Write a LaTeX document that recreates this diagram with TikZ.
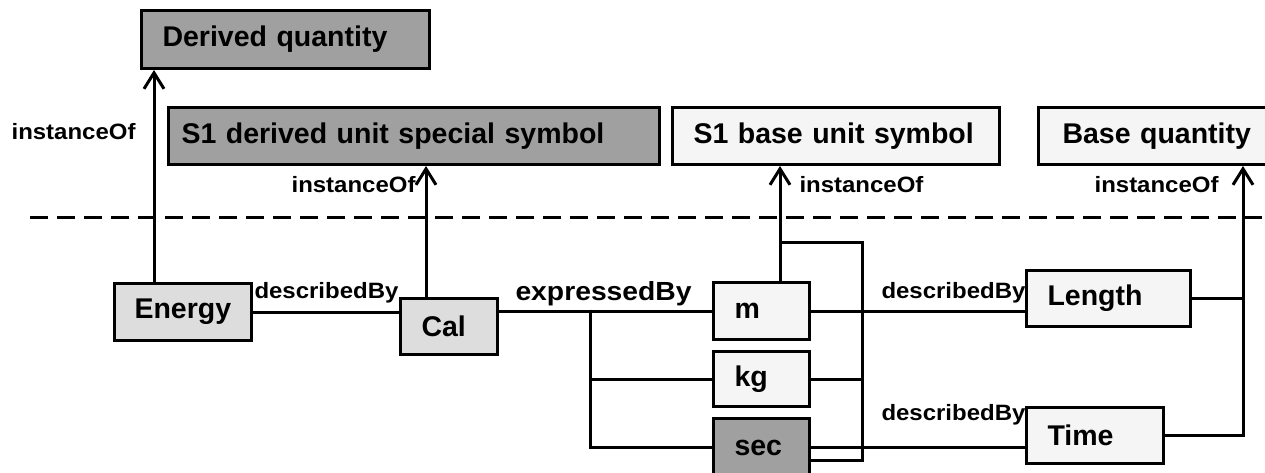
\documentclass[tikz,border=0pt]{standalone}
\usepackage{fontspec}
\setmainfont{Liberation Sans}
\newfontfamily\relfont{Liberation Sans}[FakeStretch=1.08]
\usetikzlibrary{arrows.meta}
\definecolor{darkfill}{HTML}{A0A0A0}
\definecolor{midfill}{HTML}{DDDDDD}
\definecolor{palefill}{HTML}{F5F5F5}
\begin{document}
\begin{tikzpicture}[x=1pt,y=-1pt,line width=3pt,
  box/.style={draw,anchor=north west,align=left,inner xsep=21pt,inner ysep=0pt,
    font=\bfseries\fontsize{28.5}{32}\selectfont},
  rel/.style={inner sep=0pt,font=\relfont\bfseries\fontsize{22.2}{25}\selectfont},
  arr/.style={-{Straight Barb[length=16pt,width=20pt]}}]
\clip (0,0) rectangle (1265,473);

% classes above the line
\node[box,fill=darkfill,text width=246pt,minimum height=58pt] (dq) at (140,9) {Derived quantity};
\node[box,fill=darkfill,inner xsep=13pt,text width=465pt,minimum height=57pt] (sdus) at (167,106) {S1 derived unit special symbol};
\node[box,fill=palefill,text width=285pt,minimum height=57pt] (sbus) at (671,106) {S1 base unit symbol};
\node[box,fill=palefill,inner xsep=24pt,text width=211pt,minimum height=57pt] (bq) at (1037,106) {Base quantity};

% instances below the line
\node[box,fill=midfill,inner xsep=20pt,text width=97pt,minimum height=57pt] (energy) at (113,282) {Energy};
\node[box,fill=midfill,text width=55pt,minimum height=56pt] (cal) at (399,297) {Cal};
\node[box,fill=palefill,text width=54pt,minimum height=57pt] (m) at (712,281) {m};
\node[box,fill=palefill,text width=54pt,minimum height=55pt] (kg) at (712,350) {kg};
\node[box,fill=darkfill,text width=54pt,minimum height=58pt] (sec) at (712,417) {sec};
\node[box,fill=palefill,text width=122pt,minimum height=56pt] (length) at (1025,269) {Length};
\node[box,fill=palefill,text width=95pt,minimum height=56pt] (time) at (1025,406) {Time};

% dashed divider
\draw[dash pattern=on 18pt off 9pt] (30,217) -- (1262,217);

% instanceOf
\coordinate (ea) at (154,0);
\draw[arr] (energy.north -| ea) -- (dq.south -| ea);
\node[rel,anchor=east] (io1) at (137,132) {instanceOf};

\coordinate (ca) at (426,0);
\draw[arr] (cal.north -| ca) -- (sdus.south -| ca);
\node[rel,anchor=east] (io2) at (417,185) {instanceOf};

\coordinate (ma) at (780,242);
\draw[arr] (m.north -| ma) -- (sbus.south -| ma);
\node[rel,anchor=west] (io3) at (798,185) {instanceOf};

\coordinate (qa) at (1243,0);
\draw (length.east) -- (length.east -| qa);
\draw[arr] (time.east) -| (bq.south -| qa);
\node[rel,anchor=east] (io4) at (1220,185) {instanceOf};

% describedBy / expressedBy
\draw (energy.east) -- (energy.east -| cal.west);
\node[rel,anchor=base west] (db1) at (253,298.5) {describedBy};

\draw (cal.east |- m.west) -- (m.west);
\node[rel,anchor=base west,font=\relfont\bfseries\fontsize{26.2}{29}\selectfont] (eb) at (514,300.7) {expressedBy};
\coordinate (fork) at (590,309.5);
\draw (fork) |- (kg.west);
\draw (fork) |- (sec.west);

\draw (m.east) -- (m.east -| length.west);
\node[rel,anchor=base west] (db2) at (880,298.5) {describedBy};
\draw (sec.east) -- (sec.east -| time.west);
\node[rel,anchor=base west] (db3) at (880,420.5) {describedBy};

% bracket joining m, kg and sec
\coordinate (bk) at (862,460);
\draw (ma) -| (bk) -- (bk -| sec.east);
\draw (kg.east) -- (kg.east -| bk);
\end{tikzpicture}
\end{document}
